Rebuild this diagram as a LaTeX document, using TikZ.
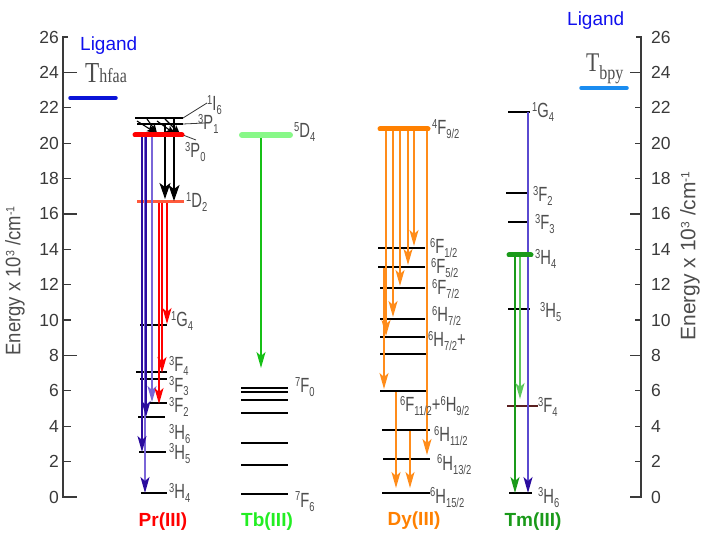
\documentclass[tikz,border=0pt]{standalone}
\usepackage{fontspec}
\usepackage{xcolor}
\usetikzlibrary{arrows.meta}
\setmainfont{Liberation Sans}
\newfontfamily\lblfont[FakeStretch=0.72]{Liberation Sans}
\newfontfamily\axnarrow[FakeStretch=0.88]{Liberation Sans}
\newfontfamily\tserif[FakeStretch=0.8]{Liberation Serif}

\definecolor{lblgray}{HTML}{4D4D4D}
\definecolor{axgray}{HTML}{3A3A3A}
\definecolor{prred}{HTML}{FF0000}
\definecolor{dred}{HTML}{FF5A3C}
\definecolor{pblue}{HTML}{2B0C9E}
\definecolor{plight}{HTML}{7A66D8}
\definecolor{tbtext}{HTML}{22EE22}
\definecolor{tblevel}{HTML}{88F888}
\definecolor{tbarrow}{HTML}{16C016}
\definecolor{dyor}{HTML}{FF8000}
\definecolor{dyarrow}{HTML}{FF8C1A}
\definecolor{tmgreen}{HTML}{1A9A1A}
\definecolor{tmlight}{HTML}{5CC85C}
\definecolor{tmpurple}{HTML}{5A4AD0}
\definecolor{maroon}{HTML}{5A2020}
\definecolor{ligblue}{HTML}{1010EE}
\definecolor{hfaablue}{HTML}{0A14D8}
\definecolor{bpyblue}{HTML}{1A8CF0}

% term symbol: superscript, letter, subscript
\newcommand\lv[3]{\raisebox{6pt}{\fontsize{13}{13}\selectfont#1}#2\raisebox{-4pt}{\fontsize{13}{13}\selectfont#3}}
\newcommand\cmunit{Energy x 10\raisebox{6pt}{\fontsize{12}{12}\selectfont 3} /cm\raisebox{6pt}{\fontsize{12}{12}\selectfont -1}}

\begin{document}
\begin{tikzpicture}[x=1pt,y=-1pt,
  lvl/.style={line width=2pt,black},
  thick lvl/.style={line width=5pt,line cap=round},
  lead/.style={line width=0.8pt,axgray},
  lbl/.style={anchor=base west,inner sep=0pt,text=lblgray,font=\lblfont\fontsize{20.5}{20.5}\selectfont},
  ion/.style={inner sep=0pt,font=\bfseries\fontsize{19}{19}\selectfont},
  num/.style={inner sep=0pt,text=axgray,font=\fontsize{17.5}{17.5}\selectfont},
  arr/.style={line width=1.3pt,-{Stealth[length=16pt,width=9pt,inset=4pt]}},
  bigarr/.style={line width=1.4pt,-{Stealth[length=16pt,width=11pt,inset=4pt]}},
  smallarr/.style={line width=1.1pt,-{Stealth[length=9pt,width=7pt,inset=2pt]}},
  axis/.style={line width=1.2pt,axgray}]
\useasboundingbox (0,0) rectangle (702,537);

% ---------- energy axes ----------
\draw[axis] (68,37) -- (63,37) -- (63,497) -- (77,497);
\draw[axis] (636,37) -- (641,37) -- (641,497) -- (630,497);
\foreach \v in {2,4,...,24}{
  \pgfmathsetmacro\yy{497-\v*17.6923}
  \pgfmathtruncatemacro\mm{mod(\v,8)}
  \ifnum\mm=0
    \draw[axis] (63,\yy) -- (77,\yy);
    \draw[axis] (630,\yy) -- (641,\yy);
  \else
    \draw[axis] (63,\yy) -- (71,\yy);
    \draw[axis] (635,\yy) -- (641,\yy);
  \fi
}
\foreach \v in {0,2,...,26}{
  \pgfmathsetmacro\yy{497-\v*17.6923}
  \node[num,anchor=east] (ln\v) at (59,\yy) {\v};
  \node[num,anchor=west] (rn\v) at (651,\yy) {\v};
}
\node[rotate=90,inner sep=0pt,text=lblgray,font=\axnarrow\fontsize{21}{21}\selectfont] (ylabL) at (15,281) {\cmunit};
\node[rotate=90,inner sep=0pt,text=lblgray,font=\fontsize{21}{21}\selectfont] (ylabR) at (690,256) {\cmunit};

% ---------- ligand triplets ----------
\node[anchor=base west,inner sep=0pt,text=ligblue,font=\fontsize{19}{19}\selectfont] (ligL) at (80,51) {Ligand};
\node[anchor=base west,inner sep=0pt,text=ligblue,font=\fontsize{19}{19}\selectfont] (ligR) at (567,26) {Ligand};
\node[anchor=base west,inner sep=0pt,text=lblgray,font=\tserif] (thfaa) at (85,83)
  {\fontsize{29}{29}\selectfont T\fontsize{20}{20}\selectfont hfaa};
\node[anchor=base west,inner sep=0pt,text=lblgray,font=\tserif] (tbpy) at (586,72)
  {\fontsize{27}{27}\selectfont T\raisebox{-8pt}{\fontsize{20}{20}\selectfont bpy}};
\draw[line width=3.5pt,line cap=round,hfaablue] (70,98) -- (116,98);
\draw[line width=3.5pt,line cap=round,bpyblue] (581,88) -- (627,88);

% ---------- Pr(III) ----------
\draw[lvl] (135,118) -- (183,118);
\draw[lvl] (137,124) -- (183,124);
\draw[lvl] (140,325) -- (167,325);
\draw[lvl] (136,372) -- (167,372);
\draw[lvl] (140,379) -- (167,379);
\draw[lvl] (150,403) -- (167,403);
\draw[lvl] (138,417) -- (165,417);
\draw[lvl] (139,452) -- (166,452);
\draw[lvl] (141,493) -- (167,493);
\draw[line width=3pt,dred] (137,202) -- (184,202);
\draw[lead] (183,118) -- (207,103);
\draw[lead] (183,124) -- (205,123);
\draw[lead] (183,135) -- (196,140);

\coordinate (pa1) at (145,137); \coordinate (pb1) at (145,493);
\coordinate (pa2) at (142,137); \coordinate (pb2) at (142,452);
\coordinate (pa3) at (146,137); \coordinate (pb3) at (146,417);
\coordinate (pa4) at (152,137); \coordinate (pb4) at (152,402);
\draw[arr,plight,-{Stealth[length=16pt,width=9pt,inset=4pt,color=pblue]}] (pa1) -- (pb1);
\draw[arr,pblue] (pa2) -- (pb2);
\draw[arr,pblue] (pa3) -- (pb3);
\draw[arr,plight] (pa4) -- (pb4);

\coordinate (ra1) at (159,203); \coordinate (rb1) at (159,404);
\coordinate (ra2) at (162,203); \coordinate (rb2) at (162,373);
\coordinate (ra3) at (167,203); \coordinate (rb3) at (167,324);
\draw[arr,prred] (ra1) -- (rb1);
\draw[arr,prred] (ra2) -- (rb2);
\draw[arr,prred] (ra3) -- (rb3);

\coordinate (ka1) at (165,124); \coordinate (kb1) at (165,199);
\coordinate (ka2) at (174,118); \coordinate (kb2) at (174,201);
\draw[bigarr] (ka1) -- (kb1);
\draw[bigarr] (ka2) -- (kb2);
\coordinate (sa1) at (137,121); \coordinate (sb1) at (156,133);
\coordinate (sa2) at (147,119); \coordinate (sb2) at (157,133);
\coordinate (sa3) at (157,121); \coordinate (sb3) at (175,134);
\coordinate (sa4) at (165,119); \coordinate (sb4) at (180,134);
\foreach \i in {1,2,3,4} \draw[smallarr] (sa\i) -- (sb\i);
\draw[thick lvl,prred] (135,135) -- (182,135);

\node[lbl] (pI6) at (207,111) {\lv{1}{I}{6}};
\node[lbl] (pP1) at (198,130) {\lv{3}{P}{1}};
\node[lbl] (pP0) at (185,158) {\lv{3}{P}{0}};
\node[lbl] (pD2) at (186,208) {\lv{1}{D}{2}};
\node[lbl] (pG4) at (171,327) {\lv{1}{G}{4}};
\node[lbl] (pF4) at (169,372) {\lv{3}{F}{4}};
\node[lbl] (pF3) at (169,392) {\lv{3}{F}{3}};
\node[lbl] (pF2) at (169,413) {\lv{3}{F}{2}};
\node[lbl] (pH6) at (169,439) {\lv{3}{H}{6}};
\node[lbl] (pH5) at (169,459) {\lv{3}{H}{5}};
\node[lbl] (pH4) at (169,498) {\lv{3}{H}{4}};
\node[ion,text=prred] (pr) at (163,522) {Pr(III)};

% ---------- Tb(III) ----------
\foreach \yy in {388,392,400,413,443,465,494} \draw[lvl] (241,\yy) -- (288,\yy);
\coordinate (ta) at (261,137); \coordinate (tb) at (261,368);
\draw[arr,tbarrow] (ta) -- (tb);
\draw[line width=6pt,line cap=round,tblevel] (242,135) -- (290,135);
\node[lbl] (tD4) at (294,138) {\lv{5}{D}{4}};
\node[lbl] (tF0) at (295,393) {\lv{7}{F}{0}};
\node[lbl] (tF6) at (295,507) {\lv{7}{F}{6}};
\node[ion,text=tbtext] (tb3) at (267,522) {Tb(III)};

% ---------- Dy(III) ----------
\draw[lvl] (378,248) -- (425,248);
\draw[lvl] (378,267) -- (425,267);
\draw[lvl] (380,288) -- (425,288);
\draw[lvl] (380,319) -- (425,319);
\draw[lvl] (380,337) -- (425,337);
\draw[lvl] (380,354) -- (426,354);
\draw[lvl] (380,391) -- (427,391);
\draw[lvl] (382,430) -- (430,430);
\draw[lvl] (383,459) -- (430,459);
\draw[lvl] (382,493) -- (430,493);
\coordinate (da1) at (414,131); \coordinate (db1) at (414,246);
\coordinate (da2) at (408,131); \coordinate (db2) at (408,265);
\coordinate (da3) at (400,131); \coordinate (db3) at (400,286);
\coordinate (da4) at (393,131); \coordinate (db4) at (393,317);
\coordinate (da5) at (386,131); \coordinate (db5) at (386,336);
\coordinate (da6) at (384,268); \coordinate (db6) at (384,389);
\coordinate (da7) at (427,131); \coordinate (db7) at (427,455);
\coordinate (da8) at (396,392); \coordinate (db8) at (396,488);
\coordinate (da9) at (410,431); \coordinate (db9) at (410,488);
\foreach \i in {1,...,9} \draw[arr,dyarrow] (da\i) -- (db\i);
\draw[thick lvl,dyor] (380,129) -- (428,129);
\node[lbl] (dF92) at (432,135) {\lv{4}{F}{9/2}};
\node[lbl] (dF12) at (430,254) {\lv{6}{F}{1/2}};
\node[lbl] (dF52) at (431,274) {\lv{6}{F}{5/2}};
\node[lbl] (dF72) at (432,295) {\lv{6}{F}{7/2}};
\node[lbl] (dH72) at (432,322) {\lv{6}{H}{7/2}};
\node[lbl] (dH72p) at (428,347) {\lv{6}{H}{7/2}+};
\node[lbl] (dF112) at (400,412) {\lv{6}{F}{11/2}+\lv{6}{H}{9/2}};
\node[lbl] (dH112) at (434,442) {\lv{6}{H}{11/2}};
\node[lbl] (dH132) at (437,470) {\lv{6}{H}{13/2}};
\node[lbl] (dH152) at (430,503) {\lv{6}{H}{15/2}};
\node[ion,text=dyor] (dy) at (414,521) {Dy(III)};

% ---------- Tm(III) ----------
\draw[lvl] (508,112) -- (530,112);
\draw[lvl] (506,193) -- (527,193);
\draw[lvl] (508,222) -- (528,222);
\draw[lvl] (508,309) -- (530,309);
\draw[lvl,maroon] (507,406) -- (538,406);
\draw[lvl] (509,493) -- (532,493);
\coordinate (ma1) at (528,112); \coordinate (mb1) at (528,493);
\coordinate (ma2) at (515,257); \coordinate (mb2) at (515,493);
\coordinate (ma3) at (520,257); \coordinate (mb3) at (520,399);
\draw[arr,tmpurple,-{Stealth[length=16pt,width=9pt,inset=4pt,color=pblue]}] (ma1) -- (mb1);
\draw[arr,tmgreen] (ma2) -- (mb2);
\draw[arr,tmlight] (ma3) -- (mb3);
\draw[thick lvl,tmgreen] (509,255) -- (531,255);
\node[lbl] (mG4) at (532,118) {\lv{1}{G}{4}};
\node[lbl] (mF2) at (533,202) {\lv{3}{F}{2}};
\node[lbl] (mF3) at (535,230) {\lv{3}{F}{3}};
\node[lbl] (mH4) at (535,265) {\lv{3}{H}{4}};
\node[lbl] (mH5) at (540,318) {\lv{3}{H}{5}};
\node[lbl] (mF4) at (538,413) {\lv{3}{F}{4}};
\node[lbl] (mH6) at (538,503) {\lv{3}{H}{6}};
\node[ion,text=tmgreen] (tm) at (533,522) {Tm(III)};
\end{tikzpicture}
\end{document}
